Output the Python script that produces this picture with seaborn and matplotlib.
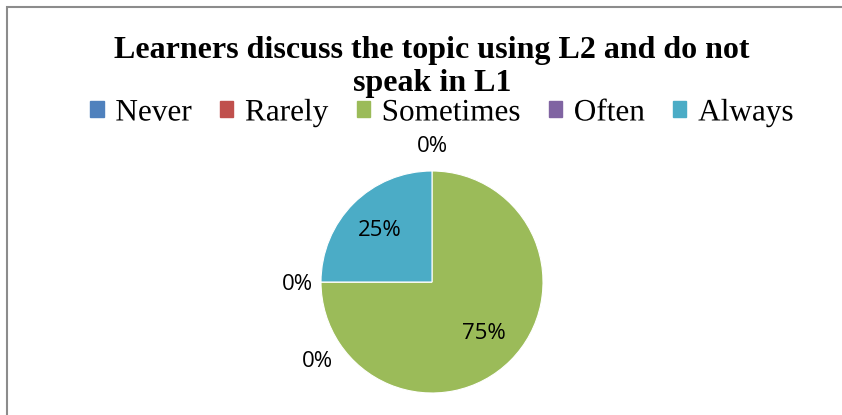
import matplotlib
matplotlib.use("Agg")
import matplotlib.pyplot as plt
import matplotlib.patches as mpatches
import matplotlib.patheffects as pe
import seaborn as sns

# data
categories = ["Never", "Rarely", "Sometimes", "Often", "Always"]
percentages = [0, 0, 75, 0, 25]
colors = ["#4F81BD", "#C0504D", "#9BBB59", "#8064A2", "#4BACC6"]
title = "Learners discuss the topic using L2 and do not\nspeak in L1"

sns.set_theme(style="white")
plt.rcParams["text.color"] = "black"
palette = sns.color_palette(colors)

W, H = 842, 415
fig = plt.figure(figsize=(W / 100, H / 100), dpi=100)

# pie centred at (432, 282) px with radius 111 px
cx, cy, r = 432, 282, 111
ax = fig.add_axes([(cx - r) / W, (H - cy - r) / H, 2 * r / W, 2 * r / H])

wedges, texts, autotexts = ax.pie(
    percentages, colors=palette, startangle=90, counterclock=False,
    autopct=lambda p: f"{p:.0f}%", pctdistance=0.66,
    wedgeprops=dict(linewidth=0.8, edgecolor="white"),
    textprops=dict(fontsize=16, family="Open Sans", color="black"),
)
ax.set_xlim(-1, 1)
ax.set_ylim(-1, 1)
ax.set_aspect("equal")

# zero-value labels sit outside the pie
zero_pos = {0: (0.0, 1.22), 1: (-1.21, -0.02), 3: (-1.03, -0.72)}
for i, (x, y) in zero_pos.items():
    autotexts[i].set_position((x, y))
    autotexts[i].set_clip_on(False)

fig.text(cx / W, 1 - 67 / H, title, ha="center", va="center",
         fontsize=23, fontweight="bold", family="Liberation Serif",
         linespacing=1.15, color="black")

handles = [mpatches.Patch(color=c) for c in palette]
leg = fig.legend(handles, categories, loc="center", bbox_to_anchor=(442 / W, 1 - 113 / H),
                 ncol=5, frameon=False, prop=dict(family="Liberation Serif", size=22.5),
                 handlelength=0.42, handleheight=0.42, handletextpad=0.38, columnspacing=0.9,
                 labelcolor="black")
# draw legend labels as paths so they share one baseline
for t in leg.get_texts():
    t.set_path_effects([pe.Normal()])

# chart border
border = mpatches.Rectangle((7 / W, -0.1), 1.2, (H - 7.5) / H + 0.1, transform=fig.transFigure,
                            fill=False, edgecolor="#8c8c8c", linewidth=1.5)
fig.patches.append(border)

fig.savefig("out.png", dpi=100)
